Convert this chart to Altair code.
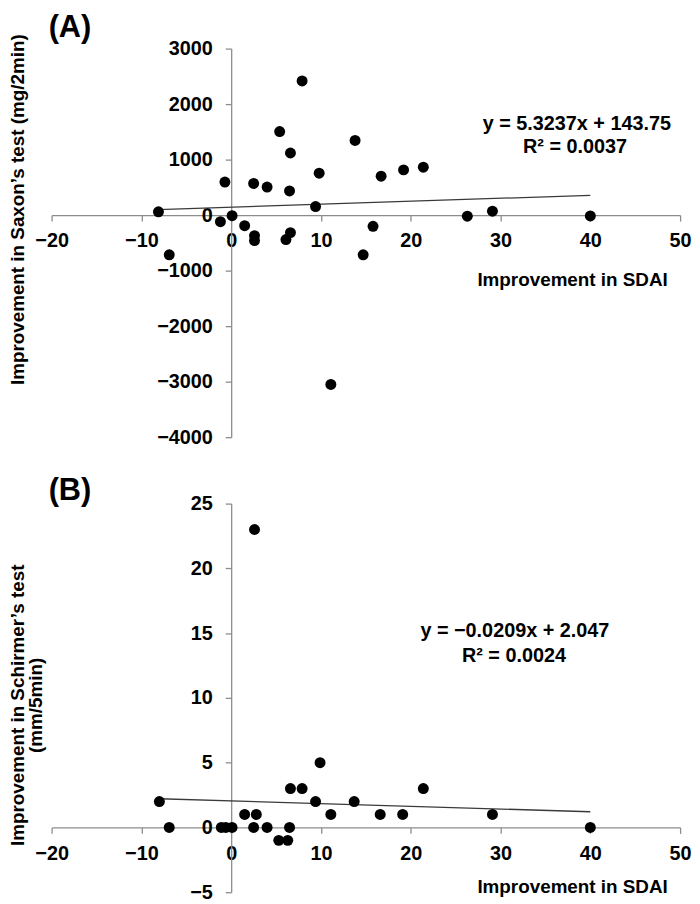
import altair as alt
import pandas as pd

# ---------------- data ----------------
sdai_a = [-8.1, -6.9, -1.2, -0.7, 0.1, 1.5, 2.5, 2.6, 2.6, 4.0, 5.4, 6.6, 6.5, 6.1,
          6.6, 7.9, 9.4, 9.8, 13.8, 14.7, 15.8, 16.7, 19.2, 21.4, 26.3, 29.1, 40.0, 11.1]
saxon = [60, -714, -119, 595, -10, -190, 571, -369, -458, 506, 1506, 1119, 435, -440,
         -315, 2417, 155, 756, 1345, -714, -202, 702, 815, 863, -20, 70, -15, -3050]

sdai_b = [-8.0, -6.9, -1.1, -0.6, 0.1, 1.5, 2.8, 2.5, 4.0, 5.3, 6.3, 6.5, 6.6, 7.9,
          9.4, 9.9, 11.1, 13.7, 16.6, 19.1, 21.4, 29.1, 40.0, 2.6]
schirmer = [2, 0, 0, 0, 0, 1, 1, 0, 0, -1, -1, 0, 3, 3,
            2, 5, 1, 2, 1, 1, 3, 1, 0, 23]

fit_a = (5.3237, 143.75)
fit_b = (-0.0209, 2.047)
eq_a = ["y = 5.3237x + 143.75", "R\u00b2 = 0.0037"]
eq_b = ["y = \u22120.0209x + 2.047", "R\u00b2 = 0.0024"]

x_ticks = [-20, -10, 0, 10, 20, 30, 40, 50]
y_ticks_a = [-4000, -3000, -2000, -1000, 0, 1000, 2000, 3000]
y_ticks_b = [-5, 0, 5, 10, 15, 20, 25]

W, H = 634, 392
FONT = "Liberation Sans"
AXIS_GREY = "#8c8c8c"


def panel(xs, ys, fit, ydom, yticks, eq_lines, eq_pos, ytitle, ytitle_x, ytitle_y,
          xtitle_x, xtitle_y, label, label_dx, label_y):
    xdom = [-20, 50]
    x_off = -H * (0 - ydom[0]) / (ydom[1] - ydom[0])
    y_off = -W * (0 - xdom[0]) / (xdom[1] - xdom[0])
    pts = pd.DataFrame({"x": xs, "y": ys})
    xsc = alt.Scale(domain=xdom, nice=False, zero=False)
    ysc = alt.Scale(domain=ydom, nice=False, zero=False)

    xaxis = alt.Axis(values=x_ticks, offset=x_off, grid=False, title="Improvement in SDAI",
                     format="d",
                     titleX=xtitle_x, titleY=xtitle_y, titleAlign="left",
                     titleBaseline="alphabetic", titleFont=FONT, titleFontSize=19,
                     titleFontWeight="bold", titleColor="black",
                     labelFont=FONT, labelFontSize=20, labelFontWeight="bold",
                     labelColor="black", labelPadding=10, tickSize=6,
                     domainColor=AXIS_GREY, tickColor=AXIS_GREY, domainWidth=1.3,
                     tickWidth=1.3, labelFlush=False, labelOverlap=False)
    yaxis = alt.Axis(values=yticks, offset=y_off, grid=False, title=ytitle,
                     format="d",
                     titleX=ytitle_x, titleY=ytitle_y, titleAngle=270,
                     titleAlign="center", titleBaseline="alphabetic",
                     titleFont=FONT, titleFontSize=19, titleFontWeight="bold",
                     titleColor="black", titleLineHeight=19,
                     labelFont=FONT, labelFontSize=20, labelFontWeight="bold",
                     labelColor="black", labelPadding=13, tickSize=6,
                     domainColor=AXIS_GREY, tickColor=AXIS_GREY, domainWidth=1.3,
                     tickWidth=1.3, labelFlush=False, labelOverlap=False)

    lo, hi = min(xs), max(xs)
    line_df = pd.DataFrame({"x": [lo, hi], "y": [fit[0] * lo + fit[1], fit[0] * hi + fit[1]]})
    eq_df = pd.DataFrame({"t": eq_lines, "x": [p[0] for p in eq_pos], "y": [p[1] for p in eq_pos]})
    lab_df = pd.DataFrame({"t": [label]})

    line = alt.Chart(line_df).mark_line(color="#3a3a3a", strokeWidth=1.3).encode(
        x=alt.X("x:Q", scale=xsc, axis=xaxis),
        y=alt.Y("y:Q", scale=ysc, axis=yaxis),
    )
    dots = alt.Chart(pts).mark_circle(size=122, color="black", opacity=1).encode(
        x=alt.X("x:Q", scale=xsc), y=alt.Y("y:Q", scale=ysc)
    )
    text = alt.Chart(eq_df).mark_text(font=FONT, fontSize=20, fontWeight="bold",
                                      color="black", align="center",
                                      baseline="alphabetic").encode(
        x=alt.X("x:Q", scale=xsc), y=alt.Y("y:Q", scale=ysc), text="t:N"
    )
    lab = alt.Chart(lab_df).mark_text(font=FONT, fontSize=31, fontWeight="bold",
                                      color="black", align="left",
                                      baseline="alphabetic").encode(
        x=alt.value(label_dx), y=alt.value(label_y), text="t:N"
    )
    return alt.layer(line, dots, text, lab).properties(width=W, height=H)


chart_a = panel(sdai_a, saxon, fit_a, [-4000, 3000], y_ticks_a, eq_a,
                [(38.5, 1536), (38.3, 1120)],
                "Improvement in Saxon\u2019s test (mg/2min)", -209, 162,
                429, 71, "(A)", -3, -12)
chart_b = panel(sdai_b, schirmer, fit_b, [-5, 25], y_ticks_b, eq_b,
                [(31.6, 14.67), (31.5, 12.75)],
                ["Improvement in Schirmer\u2019s test", "(mm/5min)"], -210, 203,
                429, 66, "(B)", -3, -4)

chart = alt.vconcat(chart_a, chart_b, spacing=67, bounds="flush").properties(
    padding={"left": 0, "top": 0, "right": 0, "bottom": 0},
    background="white",
).configure_view(stroke=None)

chart.save("out.html", embed_options={"renderer": "svg", "actions": False})
